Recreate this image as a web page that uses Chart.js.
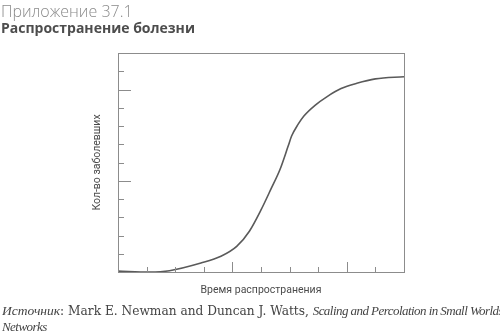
<!DOCTYPE html>
<html>
<head>
<meta charset="utf-8">
<script src="https://cdn.jsdelivr.net/npm/chart.js@4.4.1/dist/chart.umd.min.js"></script>
<style>
  body { margin: 0; background: #fff; width: 500px; height: 332px; overflow: hidden; position: relative; }
  #spread { position: absolute; left: 0; top: 0; }
  .head1 { position: absolute; left: 1px; top: 0px; font: 300 16px "Open Sans", sans-serif; color: #8a8a8a; white-space: nowrap; }
  .head2 { position: absolute; left: 1px; top: 18px; font: bold 14px "Open Sans", sans-serif; color: #4d4d4d; white-space: nowrap; }
  .src { position: absolute; left: 2px; top: 303px; width: 498px; font: 12.2px "DejaVu Serif", serif; color: #444; line-height: 15px; white-space: nowrap; overflow: hidden; }
  .src i { font-family: "Liberation Serif", serif; font-size: 13.5px; }
  .src i.it2 { font-size: 13px; letter-spacing: -0.55px; }
</style>
</head>
<body>
<canvas id="spread" width="500" height="332"></canvas>
<div class="head1">Приложение 37.1</div>
<div class="head2">Распространение болезни</div>
<div class="src"><i>Источник</i>: Mark E. Newman and Duncan J. Watts, <i class="it2">Scaling and Percolation in Small Worlds</i><br><i class="it2">Networks</i></div>
<script>
// curve (time, number of infected), arbitrary units
var time_vals = [0, 1.1, 1.8, 2.9, 3.6, 4.15, 4.6, 5.0, 5.35, 5.66, 5.95, 6.07, 6.3, 6.5, 6.9, 7.3, 7.8, 8.35, 9.0, 10];
var sick_vals = [0.05, 0, 0.07, 0.49, 0.86, 1.4, 2.25, 3.4, 4.55, 5.6, 6.9, 7.45, 8.1, 8.55, 9.15, 9.6, 10.05, 10.34, 10.58, 10.7];
var x_major = [4, 8];
var y_major = [5, 10];

var points = time_vals.map(function (t, i) { return {x: t, y: sick_vals[i]}; });

// ticks are drawn inside the box, longer ones for the majors
var innerTicks = {
    id: 'innerTicks',
    afterDatasetsDraw: function (chart) {
        var ctx = chart.ctx, xs = chart.scales.x, ys = chart.scales.y;
        var area = chart.chartArea;
        ctx.save();
        ctx.strokeStyle = '#8c8c8c';
        ctx.lineWidth = 1;
        ctx.beginPath();
        xs.ticks.forEach(function (t) {
            var px = Math.round(xs.getPixelForValue(t.value)) + 0.5;
            var len = x_major.indexOf(t.value) >= 0 ? 10 : 5;
            ctx.moveTo(px, area.bottom);
            ctx.lineTo(px, area.bottom - len);
        });
        ys.ticks.forEach(function (t) {
            var py = Math.round(ys.getPixelForValue(t.value)) + 0.5;
            var len = y_major.indexOf(t.value) >= 0 ? 13 : 6;
            ctx.moveTo(area.left, py);
            ctx.lineTo(area.left + len, py);
        });
        ctx.stroke();
        ctx.restore();
    }
};

var axisFont = { family: 'Roboto, sans-serif', size: 10.5 };

var ctxSpread = document.getElementById('spread').getContext('2d');
var spreadChart = new Chart(ctxSpread, {
    type: 'line',
    data: {
        datasets: [
            {
                data: points,
                borderColor: '#5a5a5a',
                borderWidth: 1.6,
                pointRadius: 0,
                fill: false,
                cubicInterpolationMode: 'monotone'
            }
        ]
    },
    options: {
        responsive: false,
        animation: false,
        layout: { padding: { left: 0, top: 53, right: 96, bottom: 0 } },
        plugins: { legend: { display: false }, tooltip: { enabled: false } },
        scales: {
            x: {
                type: 'linear', min: 0, max: 10,
                ticks: { display: false, stepSize: 1 },
                grid: { display: true, drawOnChartArea: false, drawTicks: false },
                border: { color: '#8c8c8c' },
                title: {
                    display: true, text: 'Время распространения', color: '#4a4a4a',
                    font: axisFont,
                    padding: { top: 12.4, bottom: 35 }
                }
            },
            y: {
                min: 0, max: 12,
                ticks: { display: false, stepSize: 1 },
                grid: { display: true, drawOnChartArea: false, drawTicks: false },
                border: { color: '#8c8c8c' },
                title: {
                    display: true, text: 'Кол-во заболевших', color: '#4a4a4a',
                    font: axisFont,
                    padding: { top: 90.7, bottom: 14.7 }
                }
            },
            x2: {
                type: 'linear', position: 'top', min: 0, max: 10,
                ticks: { display: false }, grid: { display: false, drawTicks: false },
                border: { color: '#8c8c8c' }
            },
            y2: {
                position: 'right', min: 0, max: 12,
                ticks: { display: false }, grid: { display: false, drawTicks: false },
                border: { color: '#8c8c8c' }
            }
        }
    },
    plugins: [innerTicks]
});
</script>
</body>
</html>
